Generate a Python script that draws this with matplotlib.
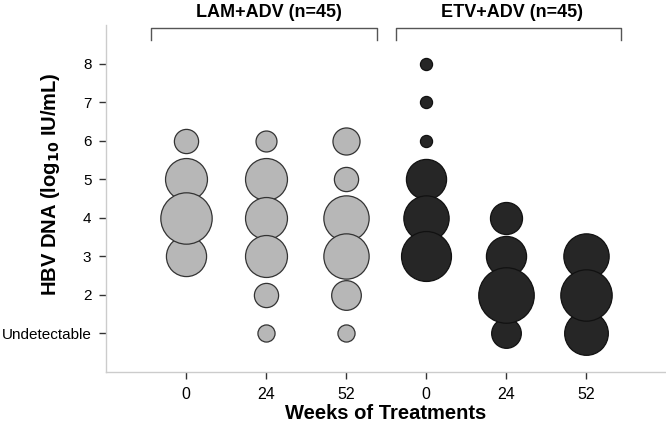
import numpy as np
import matplotlib
matplotlib.use("Agg")
import matplotlib.pyplot as plt

plt.rcParams['font.family'] = ['Liberation Sans', 'DejaVu Sans']

# columns: week labels and group of each column
week_labels = ["0", "24", "52", "0", "24", "52"]
groups = ["LAM+ADV (n=45)", "ETV+ADV (n=45)"]
col_group = [0, 0, 0, 1, 1, 1]

# HBV DNA level (1 = undetectable) and number of patients at each level
levels = [
    [6, 5, 4, 3],
    [6, 5, 4, 3, 2, 1],
    [6, 5, 4, 3, 2, 1],
    [8, 7, 6, 5, 4, 3],
    [4, 3, 2, 1],
    [3, 2, 1],
]
counts = [
    [4, 12, 18, 11],
    [3, 12, 12, 12, 4, 2],
    [5, 4, 14, 14, 6, 2],
    [1, 1, 1, 11, 14, 17],
    [7, 11, 21, 6],
    [14, 18, 13],
]
ytick_labels = ["Undetectable", "2", "3", "4", "5", "6", "7", "8"]

face = ["#b7b7b7", "#262626"]
edge = ["#333333", "#111111"]

fig = plt.figure(figsize=(6.66, 4.22), dpi=100)
ax = fig.add_axes([0.1592, 0.1185, 0.8408, 0.8223])

for i in range(len(levels)):
    g = col_group[i]
    order = np.argsort(counts[i], kind="stable")
    for j in order:
        ax.scatter(i + 1, levels[i][j], s=counts[i][j] * 76, color=face[g],
                   edgecolor=edge[g], linewidth=0.9, zorder=3 + counts[i][j] / 100)

ax.set_xlim(0, 7)
ax.set_ylim(0, 9)
ax.set_xticks(range(1, 7))
ax.set_xticklabels(week_labels, fontsize=11.5)
ax.set_yticks(range(1, 9))
ax.set_yticklabels(ytick_labels, fontsize=11)
ax.tick_params(length=5, width=1, color="#333333", pad=6)
ax.tick_params(axis="y", pad=5.5)

for side in ["top", "right"]:
    ax.spines[side].set_visible(False)
for side in ["left", "bottom"]:
    ax.spines[side].set_color("#cccccc")
    ax.spines[side].set_linewidth(1)

ax.set_xlabel("Weeks of Treatments", fontsize=14.5, fontweight="bold", labelpad=1)
ax.set_ylabel("HBV DNA (log$_{\\mathbf{10}}$ IU/mL)", fontsize=14.5, fontweight="bold")
ax.yaxis.set_label_coords(-0.078, 0.54)

# group brackets above the plot
brackets = [(0.56, 3.39), (3.62, 6.44)]
label_x = [2.04, 5.07]
for k, (x0, x1) in enumerate(brackets):
    ax.plot([x0, x0, x1, x1], [8.61, 8.92, 8.92, 8.61], color="#555555",
            linewidth=1, clip_on=False, zorder=5)
    ax.text(label_x[k], 9.33, groups[k], ha="center", va="center",
            fontsize=13, fontweight="bold")

fig.savefig("out.png", dpi=100)
